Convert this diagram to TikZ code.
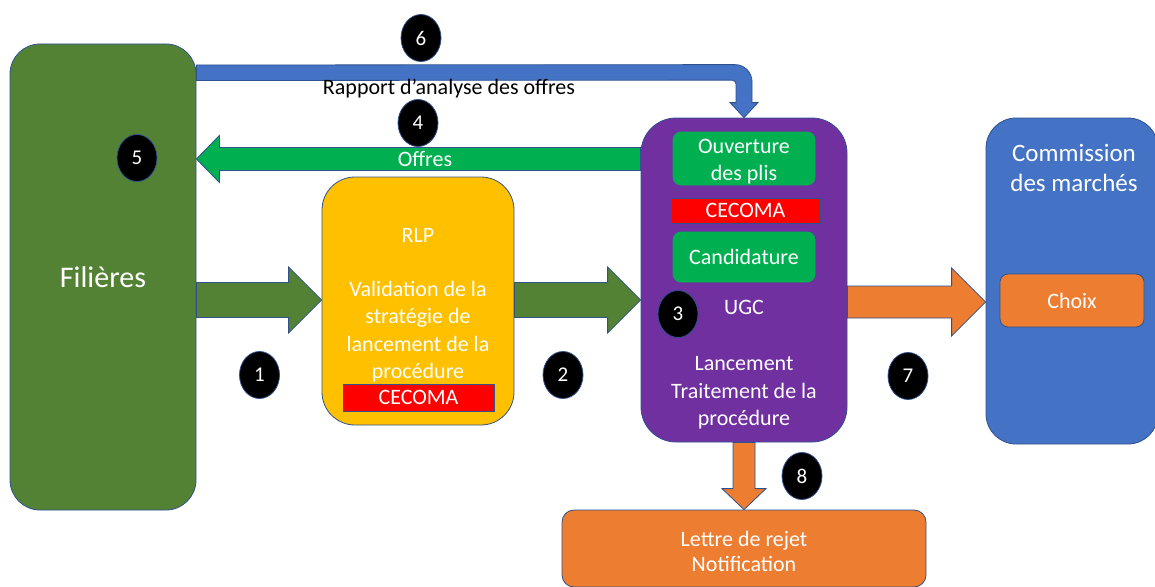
\documentclass[tikz,border=0pt]{standalone}
\usepackage{fontspec}
\setmainfont{Carlito}
\usetikzlibrary{calc,shapes.geometric}

\definecolor{vertfonce}{HTML}{548235}
\definecolor{bordure}{HTML}{2F528F}
\definecolor{jaune}{HTML}{FFC000}
\definecolor{violetugc}{HTML}{7030A0}
\definecolor{vertclair}{HTML}{00B050}
\definecolor{rougececoma}{HTML}{FF0000}
\definecolor{orangeppt}{HTML}{ED7D31}
\definecolor{bleucom}{HTML}{4472C4}

\newcommand{\txtnormal}{\fontsize{22}{27.3}\selectfont}
\newcommand{\txtgrand}{\fontsize{30}{36}\selectfont}
\newcommand{\txtcom}{\fontsize{25}{30}\selectfont}
\newcommand{\txtnum}{\fontsize{21}{24}\selectfont}

\tikzset{
  boite/.style={draw=bordure, line width=0.8pt, rounded corners=#1, inner sep=0pt,
    text=white, align=center, font=\txtnormal},
  boite/.default=8pt,
  bandeau/.style={draw=bordure, line width=0.8pt, fill=rougececoma, inner sep=0pt,
    text=white, font=\txtnormal},
  numero/.style={ellipse, draw=bordure, line width=0.8pt, fill=black, text=white,
    minimum width=40pt, minimum height=47pt, inner sep=0pt, font=\txtnum},
  texte/.style={align=center, inner sep=0pt, font=\txtnormal},
  % fleche pleine : demi-largeur du corps, demi-largeur de la tete, longueur de la tete
  fleche/.style n args={3}{to path={
      ($(\tikztotarget)!#3!(\tikztostart)$) coordinate (fb)
      ($(\tikztostart)!#1!90:(\tikztotarget)$) -- ($(fb)!#1!90:(\tikztotarget)$)
      -- ($(fb)!#2!90:(\tikztotarget)$) -- (\tikztotarget)
      -- ($(fb)!#2!-90:(\tikztotarget)$) -- ($(fb)!#1!-90:(\tikztotarget)$)
      -- ($(\tikztostart)!#1!-90:(\tikztotarget)$) -- cycle}},
}

\begin{document}
\begin{tikzpicture}[x=1pt, y=-1pt]
  \useasboundingbox (0,0) rectangle (1155,586);
  \clip (0,0) rectangle (1155,586);

  %boites
  \node[boite=30pt, fill=vertfonce, minimum width=186pt, minimum height=466pt, font=\txtgrand] (fil) at (103,277) {Filières};

  \node[boite=33pt, fill=jaune, minimum width=192pt, minimum height=248pt] (rlp) at (418,301) {};
  \node[texte, text=white] (rlptxt) at (418,305)
    {RLP\\[27.3pt]Validation de la\\stratégie de\\lancement de la\\procédure};
  \node[bandeau, minimum width=151pt, minimum height=27pt] (rlpcec) at (418.5,397.5) {CECOMA};

  \node[boite=35pt, fill=violetugc, minimum width=206pt, minimum height=324pt] (ugc) at (744,280) {};
  \node[boite, fill=vertclair, draw=vertclair, minimum width=142pt, minimum height=53pt] (ouv) at (744,158.5) {};
  \node[texte, text=white] (ouvtxt) at (744,161.5) {Ouverture\\des plis};
  \node[bandeau, minimum width=149pt, minimum height=25pt] (ugccec) at (745.5,210.5) {CECOMA};
  \node[boite, fill=vertclair, draw=vertclair, minimum width=142pt, minimum height=50pt] (cand) at (744,257) {Candidature};
  \node[texte, text=white] (ugclbl) at (744,307) {UGC};
  \node[texte, text=white] (ugctxt) at (744,393) {Lancement\\Traitement de la\\procédure};

  \node[boite=30pt, fill=bleucom, minimum width=172pt, minimum height=326pt] (com) at (1072,281) {};
  \node[texte, text=white, font=\txtcom] (comtxt) at (1074,168) {Commission\\des marchés};
  \node[boite, fill=orangeppt, minimum width=144pt, minimum height=53pt] (choix) at (1072,300.5) {Choix};

  \node[boite=12pt, fill=orangeppt, minimum width=364pt, minimum height=77pt] (lettre) at (744,548.5) {};
  \node[texte, text=white, font=\fontsize{22}{25}\selectfont] (lettretxt) at (744,551) {Lettre de rejet\\Notification};

  %fleches
  \coordinate (d1) at (fil.east |- 0,300);
  \coordinate (f1) at (rlp.west |- d1);
  \coordinate (d2) at (rlp.east |- d1);
  \coordinate (f2) at (ugc.west |- d1);
  \coordinate (d4) at (ugc.west |- 0,159);
  \coordinate (f4) at (fil.east |- d4);
  \coordinate (d7) at (ugc.east |- 0,302);
  \coordinate (f7) at (com.west |- d7);

  \draw[fill=vertfonce, draw=bordure, line width=0.8pt] (d1) to[fleche={17.5pt}{33pt}{33pt}] (f1);
  \draw[fill=vertfonce, draw=bordure, line width=0.8pt] (d2) to[fleche={17.5pt}{33pt}{33pt}] (f2);
  \draw[fill=vertclair, draw=bordure, line width=0.8pt] (d4) to[fleche={11.5pt}{23.5pt}{23pt}] (f4);
  \draw[fill=orangeppt, draw=bordure, line width=0.8pt] (d7) to[fleche={16pt}{34pt}{34pt}] (f7);
  \draw[fill=orangeppt, draw=bordure, line width=0.8pt] (ugc.south) to[fleche={11pt}{22pt}{21pt}] (lettre.north);

  \draw[fill=bleucom, draw=bordure, line width=0.8pt]
    (fil.east |- 0,65) [rounded corners=17pt] -- ($(ugc.north)+(8,-53)$) [sharp corners]
    -- ($(ugc.north)+(8,-15)$) -- ($(ugc.north)+(14,-15)$) -- (ugc.north)
    -- ($(ugc.north)+(-14,-15)$) -- ($(ugc.north)+(-8,-15)$)
    [rounded corners=4pt] -- ($(ugc.north)+(-8,-37.5)$) [sharp corners]
    -- (fil.east |- 0,80.5) -- cycle;

  \node[texte, text=white] (offres) at (425,159) {Offres};
  \node[texte] (rapport) at (449,89) {Rapport d’analyse des offres};

  %numeros
  \node[numero] (n1) at (259.5,375) {1};
  \node[numero] (n2) at (563,375) {2};
  \node[numero] (n3) at (678,314) {3};
  \node[numero] (n4) at (418,123) {4};
  \node[numero] (n5) at (137,158) {5};
  \node[numero] (n6) at (421,38) {6};
  \node[numero] (n7) at (908,376) {7};
  \node[numero] (n8) at (802,476) {8};
\end{tikzpicture}
\end{document}
